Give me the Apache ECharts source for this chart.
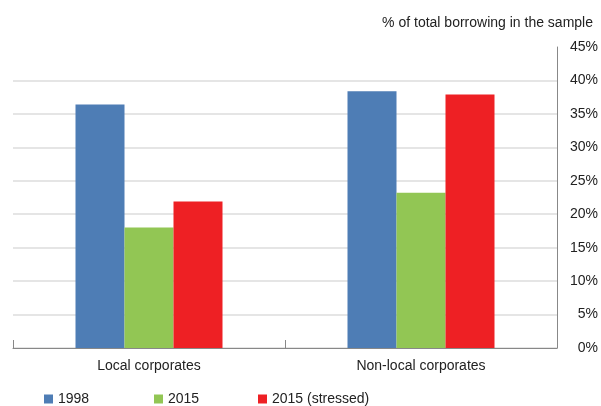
<!DOCTYPE html>
<html><head><meta charset="utf-8">
<script src="https://cdn.jsdelivr.net/npm/echarts@6/dist/echarts.min.js"></script>
<style>html,body{margin:0;padding:0;background:#fff}#c{width:601px;height:406px}</style>
</head><body><div id="c"></div>
<script>
const categories = ['Local corporates', 'Non-local corporates'];
const seriesNames = ['1998', '2015', '2015 (stressed)'];
const v1998 = [36.4, 38.4];
const v2015 = [18.0, 23.2];
const v2015s = [21.9, 37.9];
const colors = ['#4e7db5', '#92c654', '#ee2024'];
const yTicks = [0, 5, 10, 15, 20, 25, 30, 35, 40, 45];
const axisTitle = '% of total borrowing in the sample';
const legendLefts = [44, 154, 258];

const font = 'Liberation Sans, Arial, Helvetica, sans-serif';
const chart = echarts.init(document.getElementById('c'));
const vals = [v1998, v2015, v2015s];
chart.setOption({
  animation: false,
  textStyle: { fontFamily: font },
  title: { text: axisTitle, right: 3, top: 11, textStyle: { fontSize: 14, fontWeight: 'normal', color: '#222', fontFamily: font } },
  grid: { left: 13, right: 44, top: 47, bottom: 58 },
  legend: seriesNames.map((n, i) => ({
    left: legendLefts[i], top: 392, padding: 0, itemWidth: 9, itemHeight: 9, icon: 'rect',
    textStyle: { fontSize: 14, color: '#222', fontFamily: font },
    data: [n]
  })),
  xAxis: {
    type: 'category', data: categories,
    axisLine: { lineStyle: { color: '#888', width: 1 } },
    axisTick: { show: true, inside: true, length: 8, lineStyle: { color: '#888' } },
    axisLabel: { fontSize: 14, color: '#222', margin: 11, fontFamily: font }
  },
  yAxis: {
    type: 'value', position: 'right', min: 0, max: yTicks[yTicks.length-1], interval: 5,
    axisLine: { show: true, lineStyle: { color: '#888', width: 1 } },
    axisTick: { show: false },
    splitLine: { showMaxLine: false, lineStyle: { color: '#dcdcdc', width: 1.5 } },
    axisLabel: { fontSize: 14, color: '#222', align: 'right', margin: 41, formatter: '{value}%', fontFamily: font }
  },
  series: seriesNames.map((n, i) => ({
    name: n, type: 'bar', data: vals[i], barWidth: 49, barGap: '0%',
    itemStyle: { color: colors[i] }
  }))
});
</script></body></html>
